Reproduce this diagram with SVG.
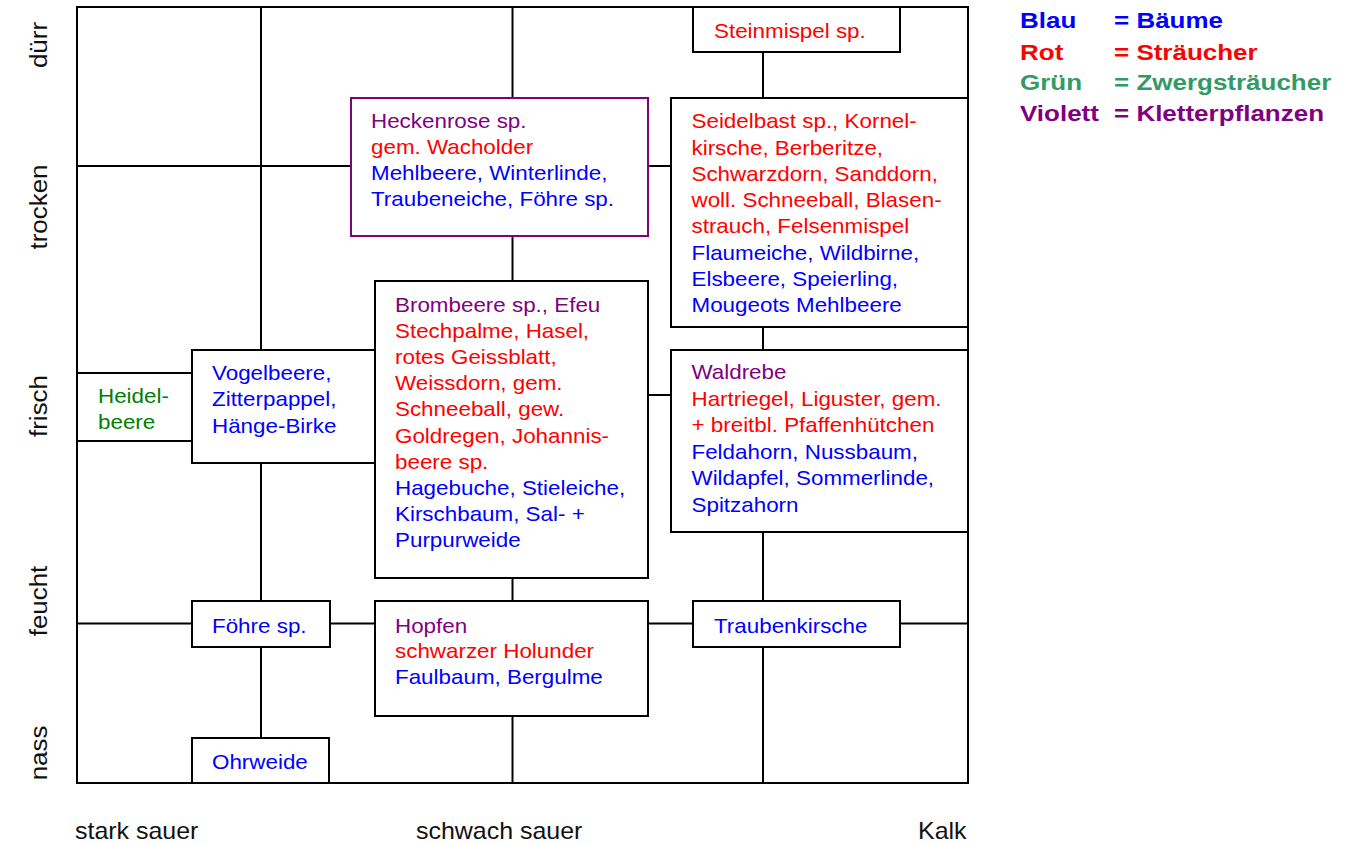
<svg xmlns="http://www.w3.org/2000/svg" width="1352" height="843" viewBox="0 0 1352 843">
<style>
.ln{stroke:#000;stroke-width:2;fill:none}
.box{fill:#fff;stroke:#000;stroke-width:2}
.pbox{fill:#fff;stroke:#800080;stroke-width:2}
.t{font-family:"Liberation Sans",Arial,sans-serif;font-size:20px}
.ax{font-family:"Liberation Sans",Arial,sans-serif;font-size:24px;fill:#111}
.lg{font-family:"Liberation Sans",Arial,sans-serif;font-size:22.5px;font-weight:bold}
.b{fill:#0000ff}.r{fill:#ff0000}.v{fill:#800080}.g{fill:#008000}.lgg{fill:#339966}
</style>
<rect width="1352" height="843" fill="#fff"/>
<g id="frame"><rect class="ln" x="77" y="7" width="891" height="776"/></g>
<g id="connectors">
<line class="ln" x1="261" y1="7" x2="261" y2="350"/>
<line class="ln" x1="261" y1="463" x2="261" y2="601"/>
<line class="ln" x1="261" y1="647" x2="261" y2="738"/>
<line class="ln" x1="512.5" y1="7" x2="512.5" y2="98"/>
<line class="ln" x1="512.5" y1="236" x2="512.5" y2="281"/>
<line class="ln" x1="512.5" y1="578" x2="512.5" y2="601"/>
<line class="ln" x1="512.5" y1="716" x2="512.5" y2="783"/>
<line class="ln" x1="763" y1="52" x2="763" y2="98"/>
<line class="ln" x1="763" y1="327" x2="763" y2="350"/>
<line class="ln" x1="763" y1="532" x2="763" y2="601"/>
<line class="ln" x1="763" y1="647" x2="763" y2="783"/>
<line class="ln" x1="77" y1="166" x2="351" y2="166"/>
<line class="ln" x1="648" y1="166" x2="671" y2="166"/>
<line class="ln" x1="648" y1="395" x2="671" y2="395"/>
<line class="ln" x1="77" y1="623.5" x2="192" y2="623.5"/>
<line class="ln" x1="330" y1="623.5" x2="375" y2="623.5"/>
<line class="ln" x1="648" y1="623.5" x2="693" y2="623.5"/>
<line class="ln" x1="900" y1="623.5" x2="968" y2="623.5"/>
</g>
<g id="steinmispel"><rect class="box" x="693" y="7" width="207" height="45"/>
<text class="t r" transform="translate(714,37.5) scale(1.12,1)">Steinmispel sp.</text></g>
<g id="heckenrose"><rect class="pbox" x="351" y="98" width="297" height="138"/>
<text class="t" transform="translate(371,128) scale(1.12,1)"><tspan x="0" y="0" class="v">Heckenrose sp.</tspan><tspan x="0" y="26" class="r">gem. Wacholder</tspan><tspan x="0" y="52" class="b">Mehlbeere, Winterlinde,</tspan><tspan x="0" y="78" class="b">Traubeneiche, Föhre sp.</tspan></text></g>
<g id="seidelbast"><rect class="box" x="671" y="98" width="297" height="229"/>
<text class="t" transform="translate(691.5,128.3) scale(1.12,1)"><tspan x="0" y="0" class="r">Seidelbast sp., Kornel-</tspan><tspan x="0" y="26.3" class="r">kirsche, Berberitze,</tspan><tspan x="0" y="52.6" class="r">Schwarzdorn, Sanddorn,</tspan><tspan x="0" y="78.9" class="r">woll. Schneeball, Blasen-</tspan><tspan x="0" y="105.2" class="r">strauch, Felsenmispel</tspan><tspan x="0" y="131.5" class="b">Flaumeiche, Wildbirne,</tspan><tspan x="0" y="157.8" class="b">Elsbeere, Speierling,</tspan><tspan x="0" y="184.1" class="b">Mougeots Mehlbeere</tspan></text></g>
<g id="heidelbeere"><rect class="box" x="77" y="373" width="115" height="68"/>
<text class="t g" transform="translate(98,403.3) scale(1.12,1)"><tspan x="0" y="0">Heidel-</tspan><tspan x="0" y="26.2">beere</tspan></text></g>
<g id="vogelbeere"><rect class="box" x="192" y="350" width="183" height="113"/>
<text class="t b" transform="translate(212,380) scale(1.12,1)"><tspan x="0" y="0">Vogelbeere,</tspan><tspan x="0" y="26.5">Zitterpappel,</tspan><tspan x="0" y="53">Hänge-Birke</tspan></text></g>
<g id="brombeere"><rect class="box" x="375" y="281" width="273" height="297"/>
<text class="t" transform="translate(395,311.7) scale(1.12,1)"><tspan x="0" y="0" class="v">Brombeere sp., Efeu</tspan><tspan x="0" y="26.2" class="r">Stechpalme, Hasel,</tspan><tspan x="0" y="52.4" class="r">rotes Geissblatt,</tspan><tspan x="0" y="78.6" class="r">Weissdorn, gem.</tspan><tspan x="0" y="104.8" class="r">Schneeball, gew.</tspan><tspan x="0" y="131" class="r">Goldregen, Johannis-</tspan><tspan x="0" y="157.2" class="r">beere sp.</tspan><tspan x="0" y="183.4" class="b">Hagebuche, Stieleiche,</tspan><tspan x="0" y="209.6" class="b">Kirschbaum, Sal- +</tspan><tspan x="0" y="235.8" class="b">Purpurweide</tspan></text></g>
<g id="waldrebe"><rect class="box" x="671" y="350" width="297" height="182"/>
<text class="t" transform="translate(691.5,379.3) scale(1.12,1)"><tspan x="0" y="0" class="v">Waldrebe</tspan><tspan x="0" y="26.5" class="r">Hartriegel, Liguster, gem.</tspan><tspan x="0" y="53" class="r">+ breitbl. Pfaffenhütchen</tspan><tspan x="0" y="79.5" class="b">Feldahorn, Nussbaum,</tspan><tspan x="0" y="106" class="b">Wildapfel, Sommerlinde,</tspan><tspan x="0" y="132.5" class="b">Spitzahorn</tspan></text></g>
<g id="foehre"><rect class="box" x="192" y="601" width="138" height="46"/>
<text class="t b" transform="translate(212,632.7) scale(1.12,1)">Föhre sp.</text></g>
<g id="hopfen"><rect class="box" x="375" y="601" width="273" height="115"/>
<text class="t" transform="translate(395,632.7) scale(1.12,1)"><tspan x="0" y="0" class="v">Hopfen</tspan><tspan x="0" y="25.8" class="r">schwarzer Holunder</tspan><tspan x="0" y="51.6" class="b">Faulbaum, Bergulme</tspan></text></g>
<g id="traubenkirsche"><rect class="box" x="693" y="601" width="207" height="46"/>
<text class="t b" transform="translate(714,632.7) scale(1.12,1)">Traubenkirsche</text></g>
<g id="ohrweide"><rect class="box" x="192" y="738" width="137" height="45"/>
<text class="t b" transform="translate(212,769) scale(1.12,1)">Ohrweide</text></g>
<g id="y-axis">
<text class="ax" text-anchor="middle" transform="translate(47,45) rotate(-90) scale(1.08,1)">dürr</text>
<text class="ax" text-anchor="middle" transform="translate(47,207) rotate(-90) scale(1.08,1)">trocken</text>
<text class="ax" text-anchor="middle" transform="translate(47,406) rotate(-90) scale(1.08,1)">frisch</text>
<text class="ax" text-anchor="middle" transform="translate(47,601) rotate(-90) scale(1.08,1)">feucht</text>
<text class="ax" text-anchor="middle" transform="translate(47,753) rotate(-90) scale(1.08,1)">nass</text>
</g>
<g id="x-axis">
<text class="ax" transform="translate(75,839) scale(1.04,1)">stark sauer</text>
<text class="ax" transform="translate(416,839) scale(1.04,1)">schwach sauer</text>
<text class="ax" transform="translate(918,839) scale(1.04,1)">Kalk</text>
</g>
<g id="legend">
<text class="lg b" transform="translate(1020,28) scale(1.155,1)">Blau</text>
<text class="lg b" transform="translate(1114,28) scale(1.155,1)">= Bäume</text>
<text class="lg r" transform="translate(1020,59.5) scale(1.155,1)">Rot</text>
<text class="lg r" transform="translate(1114,59.5) scale(1.155,1)">= Sträucher</text>
<text class="lg lgg" transform="translate(1020,90) scale(1.155,1)">Grün</text>
<text class="lg lgg" transform="translate(1114,90) scale(1.155,1)">= Zwergsträucher</text>
<text class="lg v" transform="translate(1020,120.5) scale(1.155,1)">Violett</text>
<text class="lg v" transform="translate(1114,120.5) scale(1.155,1)">= Kletterpflanzen</text>
</g>
</svg>
